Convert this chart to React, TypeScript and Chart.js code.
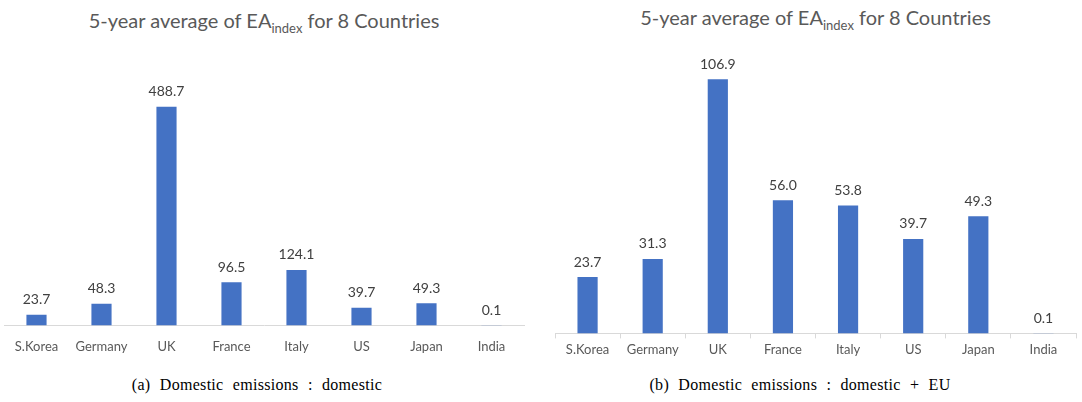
import React, { useEffect, useRef } from "react";
import { Chart, registerables } from "chart.js";

Chart.register(...registerables);

const categories = ["S.Korea", "Germany", "UK", "France", "Italy", "US", "Japan", "India"];
const domesticValues = [23.7, 48.3, 488.7, 96.5, 124.1, 39.7, 49.3, 0.1];
const domesticEuValues = [23.7, 31.3, 106.9, 56.0, 53.8, 39.7, 49.3, 0.1];
const domesticMax = 600;
const domesticEuMax = 120;

const SANS = "Lato, 'Open Sans', sans-serif";
const BAR = "#4472C4";

const valueLabels = {
  id: "valueLabels",
  afterDatasetsDraw(chart: any) {
    const ctx = chart.ctx;
    const meta = chart.getDatasetMeta(0);
    const data = chart.data.datasets[0].data as number[];
    ctx.save();
    ctx.font = `14px ${SANS}`;
    ctx.fillStyle = "#404040";
    ctx.textAlign = "center";
    ctx.textBaseline = "middle";
    meta.data.forEach((el: any, i: number) => {
      ctx.fillText(data[i].toFixed(1), el.x, el.y - 15);
    });
    ctx.restore();
  },
};

type PanelProps = {
  left: number;
  width: number;
  values: number[];
  max: number;
  padLeft: number;
  padRight: number;
  padTop: number;
  height: number;
  tickMarks: boolean;
  caption: string;
  captionCenter: number;
  titleTop: number;
};

function Panel(p: PanelProps) {
  const ref = useRef<HTMLCanvasElement | null>(null);
  useEffect(() => {
    if (!ref.current) return;
    const chart = new Chart(ref.current, {
      type: "bar",
      data: {
        labels: categories,
        datasets: [
          {
            data: p.values,
            backgroundColor: BAR,
            borderWidth: 0,
            categoryPercentage: 1,
            barPercentage: 0.31,
          },
        ],
      },
      options: {
        animation: false,
        responsive: false,
        maintainAspectRatio: false,
        layout: { padding: { left: p.padLeft, right: p.padRight, top: p.padTop, bottom: 0 } },
        plugins: { legend: { display: false }, tooltip: { enabled: false }, title: { display: false } },
        scales: {
          y: { display: false, min: 0, max: p.max },
          x: {
            grid: {
              display: p.tickMarks,
              drawOnChartArea: false,
              drawTicks: p.tickMarks,
              tickLength: 5,
              color: "#D9D9D9",
            },
            border: { display: true, color: "#D9D9D9", width: 1 },
            ticks: {
              color: "#595959",
              font: { family: SANS, size: 13 },
              padding: p.tickMarks ? 4 : 14,
              maxRotation: 0,
            },
          },
        },
      },
      plugins: [valueLabels],
    });
    return () => chart.destroy();
  }, []);
  const axisCenter = p.padLeft + (p.width - p.padLeft - p.padRight) / 2;
  return (
    <div style={{ position: "absolute", left: p.left, top: 0, width: p.width, height: 402 }}>
      <div
        style={{
          position: "absolute",
          top: p.titleTop,
          left: axisCenter - 250,
          width: 500,
          textAlign: "center",
          fontFamily: SANS,
          fontSize: 20,
          color: "#595959",
          whiteSpace: "nowrap",
        }}
      >
        5-year average of EA
        <span style={{ fontSize: 13, position: "relative", top: 5 }}>index</span> for 8 Countries
      </div>
      <canvas
        ref={ref}
        width={p.width}
        height={p.height}
        style={{ position: "absolute", left: 0, top: 0, width: p.width, height: p.height }}
      />
      <div
        style={{
          position: "absolute",
          top: 376,
          left: p.captionCenter - 250,
          width: 500,
          textAlign: "center",
          fontFamily: "'Liberation Serif', 'Times New Roman', serif",
          fontSize: 16,
          letterSpacing: 0.3,
          wordSpacing: 5,
          color: "#000",
          whiteSpace: "nowrap",
        }}
      >
        {p.caption}
      </div>
    </div>
  );
}

export default function App() {
  return (
    <div style={{ position: "absolute", left: 0, top: 0, width: 1082, height: 402, background: "#fff" }}>
      <Panel
        left={0}
        width={540}
        values={domesticValues}
        max={domesticMax}
        padLeft={4}
        padRight={16}
        padTop={57}
        height={369}
        tickMarks={false}
        caption="(a) Domestic emissions : domestic"
        captionCenter={257}
        titleTop={8}
      />
      <Panel
        left={540}
        width={542}
        values={domesticEuValues}
        max={domesticEuMax}
        padLeft={15}
        padRight={6}
        padTop={48}
        height={362}
        tickMarks={true}
        caption="(b) Domestic emissions : domestic + EU"
        captionCenter={260}
        titleTop={5}
      />
    </div>
  );
}
